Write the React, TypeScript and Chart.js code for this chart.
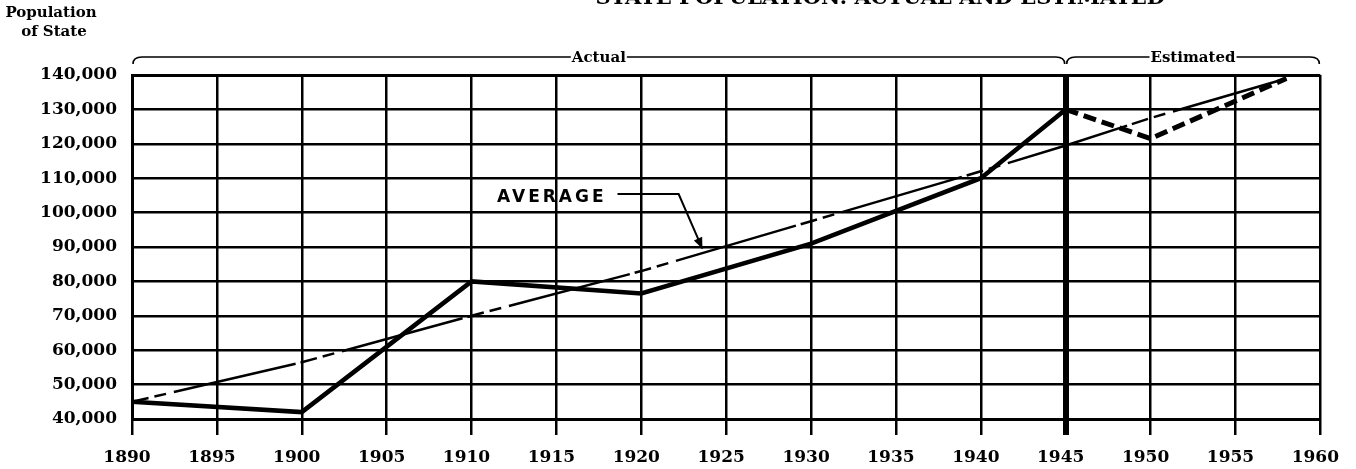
import { useEffect, useRef } from 'react';
import { Chart, registerables } from 'chart.js';

Chart.register(...registerables);

// ---- data ----
const xTickValues = [1890, 1895, 1900, 1905, 1910, 1915, 1920, 1925, 1930, 1935, 1940, 1945, 1950, 1955, 1960];
const yTickValues = [40000, 50000, 60000, 70000, 80000, 90000, 100000, 110000, 120000, 130000, 140000];

const actualYears = [1890, 1900, 1910, 1920, 1930, 1940, 1945];
const actualValues = [45000, 42000, 80000, 76500, 91000, 110000, 130000];

const estimatedYears = [1945, 1950, 1958];
const estimatedValues = [130000, 121500, 139000];

const averageYears = [1890, 1900, 1910, 1920, 1930, 1940, 1945, 1950, 1958];
const averageValues = [45000, 56500, 70000, 83000, 97500, 112000, 119500, 127500, 139000];

const titleText = 'STATE POPULATION: ACTUAL AND ESTIMATED';
const yAxisTitle = ['Population', 'of State'];
const braceLabels = ['Actual', 'Estimated'];
const averageLabel = 'AVERAGE';

const toPoints = (xs: number[], ys: number[]) => xs.map((x, i) => ({ x, y: ys[i] }));

function drawBrace(ctx: CanvasRenderingContext2D, x1: number, x2: number, y: number, label: string) {
  ctx.font = 'bold 15px "DejaVu Serif"';
  const w = ctx.measureText(label).width;
  const cx = (x1 + x2) / 2;
  ctx.lineWidth = 1.6;
  ctx.beginPath();
  ctx.moveTo(x1 + 1, y + 7);
  ctx.quadraticCurveTo(x1 + 1, y, x1 + 10, y);
  ctx.lineTo(cx - w / 2 - 1, y);
  ctx.moveTo(cx + w / 2 + 1, y);
  ctx.lineTo(x2 - 10, y);
  ctx.quadraticCurveTo(x2 - 1, y, x2 - 1, y + 7);
  ctx.stroke();
  ctx.textAlign = 'center';
  ctx.textBaseline = 'alphabetic';
  ctx.fillText(label, cx, y + 5);
}

const annotationPlugin = {
  id: 'annotations',
  afterDraw(chart: any) {
    const ctx: CanvasRenderingContext2D = chart.ctx;
    const xs = chart.scales.x;
    const ys = chart.scales.y;
    ctx.save();
    ctx.fillStyle = '#000';
    ctx.strokeStyle = '#000';

    // title (cut off at top)
    ctx.font = 'bold 21px "DejaVu Serif"';
    ctx.textAlign = 'right';
    ctx.textBaseline = 'alphabetic';
    ctx.fillText(titleText, 1165, 4);

    // y-axis title
    ctx.font = 'bold 15px "DejaVu Serif"';
    ctx.textAlign = 'center';
    ctx.textBaseline = 'middle';
    ctx.fillText(yAxisTitle[0], 51, 13);
    ctx.fillText(yAxisTitle[1], 54, 32);

    // braces
    const xa = xs.getPixelForValue(1890);
    const xm = xs.getPixelForValue(1945);
    const xr = xs.getPixelForValue(1960);
    const by = chart.chartArea.top - 18;
    drawBrace(ctx, xa, xm, by, braceLabels[0]);
    drawBrace(ctx, xm, xr, by, braceLabels[1]);

    // AVERAGE callout
    const lx = xs.getPixelForValue(1911.5);
    const ly = ys.getPixelForValue(104300);
    ctx.font = 'bold 17px "DejaVu Sans"';
    (ctx as any).letterSpacing = '3px';
    ctx.textAlign = 'left';
    ctx.textBaseline = 'middle';
    ctx.fillText(averageLabel, lx, ly);
    (ctx as any).letterSpacing = '0px';

    const hx1 = xs.getPixelForValue(1918.6);
    const hx2 = xs.getPixelForValue(1922.2);
    const hy = ys.getPixelForValue(105400);
    const tx = xs.getPixelForValue(1923.6);
    const ty = ys.getPixelForValue(89500);
    ctx.lineWidth = 2;
    ctx.beginPath();
    ctx.moveTo(hx1, hy);
    ctx.lineTo(hx2, hy);
    ctx.lineTo(tx, ty);
    ctx.stroke();
    const ang = Math.atan2(ty - hy, tx - hx2);
    const len = 11;
    const half = 4.5;
    ctx.beginPath();
    ctx.moveTo(tx, ty);
    ctx.lineTo(tx - len * Math.cos(ang) + half * Math.sin(ang), ty - len * Math.sin(ang) - half * Math.cos(ang));
    ctx.lineTo(tx - len * Math.cos(ang) - half * Math.sin(ang), ty - len * Math.sin(ang) + half * Math.cos(ang));
    ctx.closePath();
    ctx.fill();

    ctx.restore();
  },
};

export default function App() {
  const canvasRef = useRef<HTMLCanvasElement | null>(null);

  useEffect(() => {
    document.body.style.margin = '0';
    const canvas = canvasRef.current;
    if (!canvas) return;
    const chart = new Chart(canvas, {
      type: 'line',
      data: {
        datasets: [
          {
            label: 'Actual',
            data: toPoints(actualYears, actualValues),
            borderColor: '#000',
            borderWidth: 4.5,
            pointRadius: 0,
            tension: 0,
            fill: false,
          },
          {
            label: 'Estimated',
            data: toPoints(estimatedYears, estimatedValues),
            borderColor: '#000',
            borderWidth: 5,
            borderDash: [13, 6],
            pointRadius: 0,
            tension: 0,
            fill: false,
          },
          {
            label: 'Average',
            data: toPoints(averageYears, averageValues),
            borderColor: '#000',
            borderWidth: 2.5,
            borderDash: [17, 6, 12, 8, 125, 5],
            pointRadius: 0,
            tension: 0,
            fill: false,
          },
        ],
      },
      options: {
        responsive: false,
        animation: false,
        events: [],
        layout: { padding: { top: 75, right: 33, left: 0, bottom: 0 } },
        plugins: {
          legend: { display: false },
          tooltip: { enabled: false },
          title: { display: false },
        },
        scales: {
          x: {
            type: 'linear',
            min: 1890,
            max: 1960,
            afterBuildTicks: (scale: any) => {
              scale.ticks = xTickValues.map((v) => ({ value: v }));
            },
            afterFit: (scale: any) => {
              scale.height = 50;
            },
            ticks: {
              callback: (v: any) => String(v),
              color: '#000',
              font: { family: 'DejaVu Serif', size: 17, weight: 'bold' },
              padding: 12,
              labelOffset: -5,
              maxRotation: 0,
              autoSkip: false,
            },
            grid: {
              color: '#000',
              lineWidth: (c: any) => (c.tick && c.tick.value === 1945 ? 6 : 2.5),
              drawTicks: true,
              tickLength: 16,
              tickWidth: (c: any) => (c.tick && c.tick.value === 1945 ? 6 : 2.5),
              tickColor: '#000',
            },
            border: { display: true, color: '#000', width: 3 },
          },
          y: {
            type: 'linear',
            min: 40000,
            max: 140000,
            afterBuildTicks: (scale: any) => {
              scale.ticks = yTickValues.map((v) => ({ value: v }));
            },
            afterFit: (scale: any) => {
              scale.width = 132;
            },
            ticks: {
              callback: (v: any) => Number(v).toLocaleString('en-US'),
              color: '#000',
              font: { family: 'DejaVu Serif', size: 17, weight: 'bold' },
              padding: 15,
              autoSkip: false,
            },
            grid: {
              color: '#000',
              lineWidth: (c: any) => (c.tick && c.tick.value === 140000 ? 3 : 2.5),
              drawTicks: false,
            },
            border: { display: true, color: '#000', width: 3 },
          },
        },
      },
      plugins: [annotationPlugin],
    });
    return () => chart.destroy();
  }, []);

  return (
    <div style={{ width: 1356, height: 469, background: '#fff' }}>
      <canvas ref={canvasRef} width={1356} height={469} style={{ display: 'block' }} />
    </div>
  );
}
